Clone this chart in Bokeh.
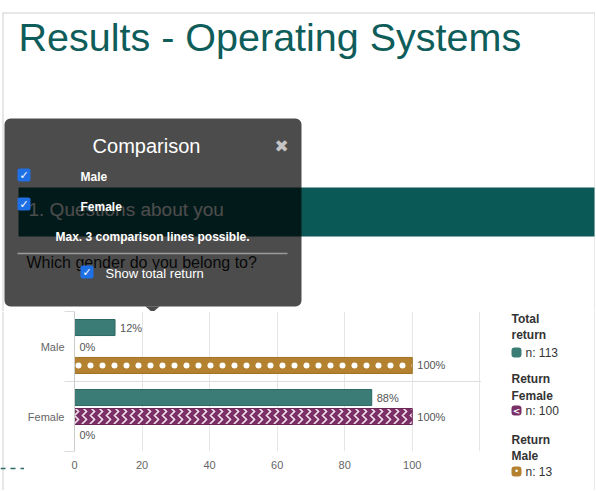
from bokeh.plotting import figure
from bokeh.layouts import column, row
from bokeh.models import (Range1d, FixedTicker, Label, BoxAnnotation, PolyAnnotation,
                          Arrow, ColumnDataSource)
from bokeh.transform import dodge
from bokeh.core.properties import value
from bokeh.embed import file_html
from bokeh.resources import INLINE

# ---------------- data ----------------
categories = ["Male", "Female"]
total_return = [12, 88]
return_female = [0, 100]
return_male = [100, 0]
series_names = ["Total return", "Return Female", "Return Male"]
series_n = [113, 100, 13]
x_ticks = [0, 20, 40, 60, 80, 100]
grid_ticks = [0, 20, 40, 60, 80, 100, 120]

# ---------------- style ----------------
FONT = "Liberation Sans"
TEAL = "#3b7c77"
TEAL_EDGE = "#2c6864"
PURPLE = "#7a2f66"
PURPLE_EDGE = "#6a2558"
GOLD = "#b3812f"
GOLD_EDGE = "#a07024"
TITLE_C = "#0f5d5a"
BAND_C = "#0b5957"
CHECK_C = "#1f6fe5"
BORDER_C = "#d0d0d0"

PAGE_W = 595
TOP_H = 311
BOT_H = 179
STRIP_W = 24
CHART_W = 457
LEG_W = PAGE_W - STRIP_W - CHART_W


def no_align(f):
    try:
        f.frame_align = False
    except Exception:
        pass
    return f


def blank(width, height):
    f = figure(width=width, height=height, output_backend="svg", toolbar_location=None,
               title=None, x_axis_type=None, y_axis_type=None,
               x_range=Range1d(0, 1), y_range=Range1d(0, 1),
               min_border_left=0, min_border_right=0, min_border_top=0, min_border_bottom=0)
    f.outline_line_color = None
    f.background_fill_color = "white"
    f.border_fill_color = "white"
    return no_align(f)


# helpers working in page pixel coordinates; org = (page_left, page_bottom) of a figure's frame
def add_text(f, org, x, y, text, size, color, bold=False, align="left", font=FONT,
             baseline="middle"):
    f.add_layout(Label(x=x - org[0], y=org[1] - y, x_units="screen", y_units="screen",
                       text=text, text_font=font, text_font_size=f"{size}px", text_color=color,
                       text_font_style="bold" if bold else "normal",
                       text_align=align, text_baseline=baseline))


def add_box(f, org, x0, y0, x1, y1, fill, alpha=1.0, radius=0):
    f.add_layout(BoxAnnotation(left=x0 - org[0], right=x1 - org[0],
                               top=org[1] - y0, bottom=org[1] - y1,
                               left_units="screen", right_units="screen",
                               top_units="screen", bottom_units="screen",
                               fill_color=fill, fill_alpha=alpha, line_color=None,
                               border_radius=radius))


def add_line(f, org, x0, y0, x1, y1, color, width=1, dash="solid"):
    f.add_layout(Arrow(end=None, x_start=x0 - org[0], y_start=org[1] - y0,
                       x_end=x1 - org[0], y_end=org[1] - y1,
                       start_units="screen", end_units="screen",
                       line_color=color, line_width=width, line_dash=dash))


# ================= top part: title, section band, comparison popup =================
top = blank(PAGE_W, TOP_H)
T = (0, TOP_H)
add_line(top, T, 2, 12.5, PAGE_W, 12.5, BORDER_C)
add_line(top, T, 2.5, 12, 2.5, TOP_H, BORDER_C)
add_line(top, T, PAGE_W - 0.5, 12, PAGE_W - 0.5, TOP_H, BORDER_C)
add_text(top, T, 18, 36, "Results - Operating Systems", 39.5, TITLE_C)

add_box(top, T, 18, 187, PAGE_W - 1, 236, BAND_C)
add_text(top, T, 28, 209, "1. Questions about you", 19, "white")
add_text(top, T, 26, 262, "Which gender do you belong to?", 16, "#222222")

# popup
add_box(top, T, 4, 118, 301, 306, "black", 0.7, 6)
top.add_layout(PolyAnnotation(xs=[145, 159, 152], ys=[TOP_H - 306, TOP_H - 306, TOP_H - 312],
                              xs_units="screen", ys_units="screen",
                              fill_color="black", fill_alpha=0.7, line_color=None))
add_text(top, T, 146, 145, "Comparison", 20, "white", align="center")
add_text(top, T, 281, 145, "✖", 17, "#c4c4c4", align="center", font="DejaVu Sans")
for (cx, cy) in [(17, 168), (17, 197), (80, 265)]:
    add_box(top, T, cx, cy, cx + 13, cy + 13, CHECK_C, 1.0, 2)
    add_text(top, T, cx + 6.5, cy + 6.5, "✓", 11, "white", bold=True, align="center",
             font="DejaVu Sans")
add_text(top, T, 80, 176, "Male", 12, "white", bold=True)
add_text(top, T, 80, 206, "Female", 12, "white", bold=True)
add_text(top, T, 152, 236, "Max. 3 comparison lines possible.", 12, "white", bold=True,
         align="center")
add_line(top, T, 17, 253, 287, 253, "#9a9a9a", 1.5)
add_text(top, T, 105, 273, "Show total return", 13, "white")

# ================= left strip =================
strip = blank(STRIP_W, BOT_H)
S = (0, TOP_H + BOT_H)
add_line(strip, S, 2.5, TOP_H, 2.5, TOP_H + BOT_H, BORDER_C)
add_line(strip, S, 0, 468, STRIP_W, 468, "#2a6b68", 1.5, "5 5")

# ================= chart =================
cat_pos = [len(categories) - 0.5 - i for i in range(len(categories))]
boundaries = list(range(len(categories) + 1))

chart = figure(width=CHART_W, height=BOT_H, output_backend="svg", toolbar_location=None,
               title=None, x_range=Range1d(0, 120.5), y_range=Range1d(0, len(categories)),
               min_border_left=49, min_border_right=0, min_border_top=0, min_border_bottom=39)
no_align(chart)
chart.outline_line_color = None
chart.background_fill_color = "white"
chart.border_fill_color = "white"

chart.xaxis.ticker = FixedTicker(ticks=x_ticks)
chart.xgrid.ticker = FixedTicker(ticks=grid_ticks)
chart.xgrid.grid_line_color = "#e6e6e6"
chart.xaxis.axis_line_color = None
chart.xaxis.major_tick_line_color = None
chart.xaxis.minor_tick_line_color = None
chart.xaxis.major_tick_out = 0
chart.xaxis.major_tick_in = 0
chart.xaxis.major_label_standoff = 9
chart.xaxis.major_label_text_font = FONT
chart.xaxis.major_label_text_font_size = "11px"
chart.xaxis.major_label_text_color = "#666666"

chart.yaxis.ticker = FixedTicker(ticks=cat_pos, minor_ticks=boundaries)
chart.yaxis.major_label_overrides = {pos: name for pos, name in zip(cat_pos, categories)}
chart.ygrid.ticker = FixedTicker(ticks=boundaries)
chart.ygrid.grid_line_color = "#dddddd"
chart.yaxis.axis_line_color = "#cccccc"
chart.yaxis.major_tick_line_color = None
chart.yaxis.major_tick_out = 0
chart.yaxis.major_tick_in = 0
chart.yaxis.minor_tick_line_color = "#dddddd"
chart.yaxis.minor_tick_out = 10
chart.yaxis.minor_tick_in = 0
chart.yaxis.major_label_standoff = 0
chart.yaxis.major_label_text_font = FONT
chart.yaxis.major_label_text_font_size = "11px"
chart.yaxis.major_label_text_color = "#666666"

src = ColumnDataSource(dict(
    pos=cat_pos,
    total=total_return, female=return_female, male=return_male,
    total_lbl=[f"{v}%" for v in total_return],
    female_lbl=[f"{v}%" for v in return_female],
    male_lbl=[f"{v}%" for v in return_male],
))
OFF = 0.271
BH = 0.229
chart.hbar(y=dodge("pos", OFF), left=0, right="total", height=BH, source=src,
           fill_color=TEAL, line_color=TEAL_EDGE)
chart.hbar(y=dodge("pos", 0), left=0, right="female", height=BH, source=src,
           fill_color=PURPLE, line_color=PURPLE_EDGE,
           hatch_pattern="vertical_wave", hatch_color="#f3dfea", hatch_scale=8, hatch_weight=1.6)
chart.hbar(y=dodge("pos", -OFF), left=0, right="male", height=BH, source=src,
           fill_color=GOLD, line_color=GOLD_EDGE,
           hatch_pattern="dot", hatch_color="white", hatch_scale=12, hatch_weight=1)

for col, off in [("total", OFF), ("female", 0), ("male", -OFF)]:
    chart.text(x=col, y=dodge("pos", off), text=col + "_lbl", source=src,
               x_offset=5, text_baseline="middle", text_align="left",
               text_font=value(FONT), text_font_size="11px", text_color="#555555")

# ================= legend =================
leg = blank(LEG_W, BOT_H)
L = (STRIP_W + CHART_W, TOP_H + BOT_H)
add_line(leg, L, PAGE_W - 0.5, TOP_H, PAGE_W - 0.5, TOP_H + BOT_H, BORDER_C)
legend_rows = [(318, 334, 352, TEAL), (378, 395, 410, PURPLE), (439, 455, 471, GOLD)]
for name, n, (y1, y2, ym, col) in zip(series_names, series_n, legend_rows):
    words = name.split(" ")
    add_text(leg, L, 511, y1, words[0], 12, "#333333", bold=True)
    add_text(leg, L, 511, y2, words[1], 12, "#333333", bold=True)
    add_box(leg, L, 511, ym - 5, 521, ym + 5, col, 1.0, 3)
    add_text(leg, L, 525, ym, f"n: {n}", 12, "#333333")
add_text(leg, L, 516, 410, "<", 9, "white", bold=True, align="center", font="DejaVu Sans")
add_text(leg, L, 516, 471, "•", 8, "white", align="center", font="DejaVu Sans")

layout = column(top, row(column(strip), column(chart), column(leg)))
open("out.html", "w").write(file_html(layout, INLINE))
